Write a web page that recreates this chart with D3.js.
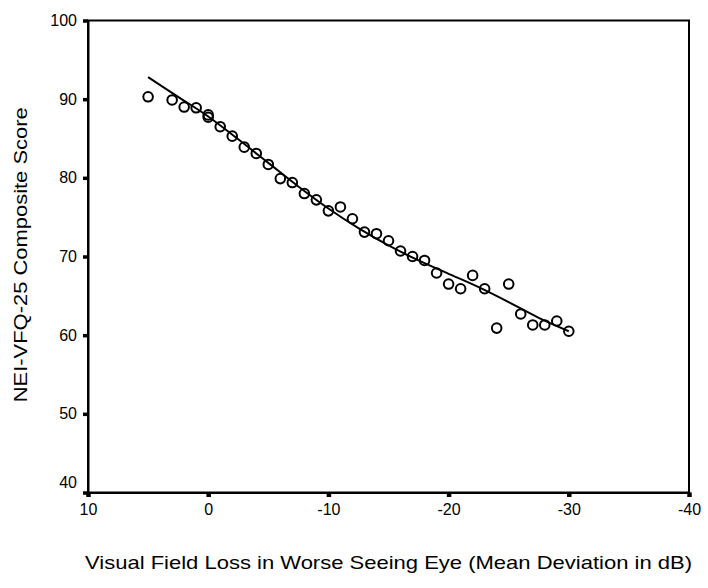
<!DOCTYPE html>
<html><head><meta charset="utf-8">
<script src="https://cdn.jsdelivr.net/npm/d3@7"></script>
<style>body{margin:0;background:#fff}svg{display:block}</style>
</head><body>
<script>
// Data
const md = [5, 3, 2, 1, 0, 0, -1, -2, -3, -4, -5, -6, -7, -8, -9, -10, -11, -12, -13, -14, -15, -16, -17, -18, -19, -20, -21, -22, -23, -24, -25, -26, -27, -28, -29, -30];
const score = [90.3, 89.9, 89.0, 88.9, 88.0, 87.7, 86.5, 85.3, 83.9, 83.1, 81.7, 79.9, 79.4, 78.0, 77.2, 75.8, 76.3, 74.8, 73.1, 72.9, 72.0, 70.7, 70.0, 69.5, 67.9, 66.5, 65.9, 67.6, 65.9, 60.9, 66.5, 62.7, 61.3, 61.3, 61.8, 60.5];
const fitX = [5, 2.5, 0, -2.5, -5, -7.5, -10, -12.5, -15, -17.5, -20, -22.5, -25, -27.5, -30];
const fitY = [92.8, 90.3, 87.8, 84.9, 81.9, 78.9, 76.1, 73.6, 71.4, 69.5, 67.8, 66.1, 64.2, 62.2, 60.5];
const xTicks = [10, 0, -10, -20, -30, -40];
const yTicks = [40, 50, 60, 70, 80, 90, 100];
const xTitle = "Visual Field Loss in Worse Seeing Eye (Mean Deviation in dB)";
const yTitle = "NEI-VFQ-25 Composite Score";

const W = 708, H = 588;
const L = 88, R = 689, T = 20.5, B = 492.5;
const font = "'Liberation Sans', Arial, sans-serif";

const svg = d3.select("body").append("svg").attr("width", W).attr("height", H);
const x = d3.scaleLinear().domain([10, -40]).range([L, R]);
const y = d3.scaleLinear().domain([40, 100]).range([B, T]);

// frame
svg.append("rect").attr("x", L).attr("y", T).attr("width", R - L).attr("height", B - T)
  .attr("fill", "none").attr("stroke", "#000").attr("stroke-width", 2);

// y axis
const yAxis = d3.axisLeft(y).tickValues(yTicks).tickSize(5).tickPadding(6).tickFormat(d => String(d));
const gy = svg.append("g").attr("transform", `translate(${L},0)`).call(yAxis);
gy.select(".domain").attr("stroke-width", 2);
gy.selectAll(".tick line").attr("stroke-width", 3.5);
gy.selectAll(".tick text").attr("font-family", font).attr("font-size", 16).attr("fill", "#000")
  .attr("dy", d => d === 40 ? "-0.3em" : "0.32em");

// x axis
const xAxis = d3.axisBottom(x).tickValues(xTicks).tickSize(4.5).tickPadding(7).tickFormat(d => String(d));
const gx = svg.append("g").attr("transform", `translate(0,${B})`).call(xAxis);
gx.select(".domain").attr("stroke-width", 2);
gx.selectAll(".tick line").attr("stroke-width", 4.5);
gx.selectAll(".tick text").attr("font-family", font).attr("font-size", 16).attr("fill", "#000");

// titles
svg.append("text").attr("x", 85).attr("y", 568.5)
  .attr("textLength", 607).attr("lengthAdjust", "spacingAndGlyphs")
  .attr("font-family", font).attr("font-size", 18.5).attr("fill", "#000").text(xTitle);
svg.append("text").attr("transform", `translate(27,402.3) rotate(-90)`)
  .attr("textLength", 295).attr("lengthAdjust", "spacingAndGlyphs")
  .attr("font-family", font).attr("font-size", 18.5).attr("fill", "#000").text(yTitle);

// fit line
const fit = fitX.map((v, i) => [v, fitY[i]]);
svg.append("path").datum(fit)
  .attr("d", d3.line().x(d => x(d[0])).y(d => y(d[1])).curve(d3.curveCatmullRom))
  .attr("fill", "none").attr("stroke", "#000").attr("stroke-width", 2);

// points
svg.append("g").selectAll("circle").data(md.map((v, i) => [v, score[i]])).join("circle")
  .attr("cx", d => x(d[0])).attr("cy", d => y(d[1])).attr("r", 4.8)
  .attr("fill", "none").attr("stroke", "#000").attr("stroke-width", 2);
</script>
</body></html>
